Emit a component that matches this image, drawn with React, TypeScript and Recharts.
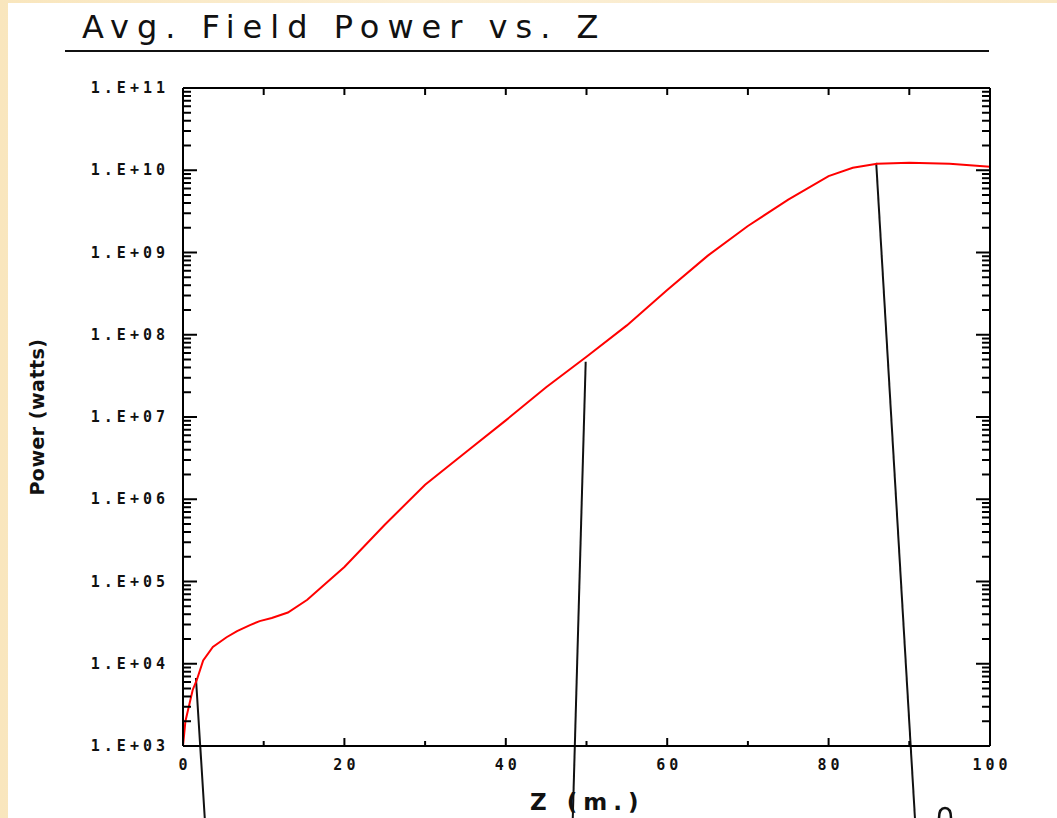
import { LineChart, Line, XAxis, YAxis, ReferenceLine } from "recharts";

// distance along the undulator (m) and average field power (W)
const zValues = [0, 0.3, 1.2, 1.7, 2.5, 3.7, 5.4, 6.7, 8.3, 9.5, 11, 13, 15.4, 17.5, 20, 25, 30, 35, 40, 45, 50, 55, 60, 65, 70, 75, 80, 83, 86, 90, 95, 100];
const powerValues = [1e3, 2.0e3, 4.8e3, 6.3e3, 1.1e4, 1.6e4, 2.1e4, 2.5e4, 2.95e4, 3.3e4, 3.6e4, 4.2e4, 6.0e4, 9.1e4, 1.5e5, 4.9e5, 1.5e6, 3.7e6, 9.1e6, 2.3e7, 5.4e7, 1.3e8, 3.5e8, 9.1e8, 2.1e9, 4.4e9, 8.5e9, 1.07e10, 1.2e10, 1.23e10, 1.2e10, 1.1e10];

// hand-drawn pointer lines on the slide: [zTop, pTop, zBottom, pBottom]
const pointerLines = [
  [1.6, 6.7e3, 2.7, 133],
  [49.9, 4.7e7, 48.3, 133],
  [85.9, 1.23e10, 90.7, 133],
];

const xTicks = [0, 10, 20, 30, 40, 50, 60, 70, 80, 90, 100];
const xTickLabels = ["0", "", "20", "", "40", "", "60", "", "80", "", "100"];
const decades = [3, 4, 5, 6, 7, 8, 9, 10, 11];
const yTickLabels = ["1.E+03", "1.E+04", "1.E+05", "1.E+06", "1.E+07", "1.E+08", "1.E+09", "1.E+10", "1.E+11"];

const yTicks: number[] = [];
decades.forEach((d, i) => {
  if (i === decades.length - 1) {
    yTicks.push(Math.pow(10, d));
    return;
  }
  for (let k = 1; k <= 9; k++) yTicks.push(k * Math.pow(10, d));
});

const data = zValues.map((z, i) => ({ z, p: powerValues[i] }));

const tickFont = "'DejaVu Sans Mono', monospace";

function decadeIndex(v: number) {
  const e = Math.log10(v);
  if (Math.abs(e - Math.round(e)) > 1e-6) return -1;
  return decades.indexOf(Math.round(e));
}

function LeftTick(props: any) {
  const { x, y, payload } = props;
  const idx = decadeIndex(payload.value);
  const major = idx >= 0;
  return (
    <g>
      <line x1={x} x2={x + (major ? 14 : 8)} y1={y} y2={y} stroke="#000" strokeWidth={2} />
      {major && (
        <text x={x - 14} y={y + 5} textAnchor="end" fontFamily={tickFont} fontSize={15} fontWeight="bold" letterSpacing={4} fill="#111">
          {yTickLabels[idx]}
        </text>
      )}
    </g>
  );
}

function RightTick(props: any) {
  const { x, y, payload } = props;
  const major = decadeIndex(payload.value) >= 0;
  return <line x1={x} x2={x - (major ? 14 : 8)} y1={y} y2={y} stroke="#000" strokeWidth={2} />;
}

function BottomTick(props: any) {
  const { x, y, index } = props;
  const label = xTickLabels[index] ?? "";
  const major = label !== "";
  return (
    <g>
      <line x1={x} x2={x} y1={y} y2={y - (major ? 8 : 5)} stroke="#000" strokeWidth={2} />
      {major && (
        <text x={x + 2} y={y + 24} textAnchor="middle" fontFamily={tickFont} fontSize={15} fontWeight="bold" letterSpacing={4} fill="#111">
          {label}
        </text>
      )}
    </g>
  );
}

function TopTick(props: any) {
  const { x, y } = props;
  return <line x1={x} x2={x} y1={y} y2={y + 7} stroke="#000" strokeWidth={2} />;
}

export default function App() {
  return (
    <div
      style={{
        position: "absolute",
        left: 0,
        top: 0,
        width: 1057,
        height: 818,
        overflow: "hidden",
        background: "linear-gradient(90deg, #f9e6bd 0%, #fbefd6 40%, #f9e8c4 100%)",
      }}
    >
      <div style={{ position: "absolute", left: 8, top: 3, width: 1049, height: 815, background: "#fff" }} />
      <div
        style={{
          position: "absolute",
          left: 82,
          top: 8,
          fontFamily: "'DejaVu Sans', sans-serif",
          fontSize: 32,
          letterSpacing: 8,
          color: "#111",
          whiteSpace: "nowrap",
        }}
      >
        Avg. Field Power vs. Z
      </div>
      <div style={{ position: "absolute", left: 65, top: 50, width: 924, height: 2, background: "#111" }} />
      <div
        style={{
          position: "absolute",
          left: 37,
          top: 417,
          transform: "translate(-50%, -50%) rotate(-90deg)",
          fontFamily: "'DejaVu Sans', sans-serif",
          fontSize: 19,
          fontWeight: "bold",
          letterSpacing: 0.5,
          color: "#111",
          whiteSpace: "nowrap",
        }}
      >
        Power (watts)
      </div>
      <div
        style={{
          position: "absolute",
          left: 530,
          top: 789,
          fontFamily: "'DejaVu Sans', sans-serif",
          fontSize: 23,
          fontWeight: "bold",
          letterSpacing: 6,
          color: "#111",
          whiteSpace: "nowrap",
        }}
      >
        Z (m.)
      </div>
      <div style={{ position: "absolute", left: 0, top: 0 }}>
        <LineChart width={1057} height={818} data={data} margin={{ top: 78, right: 57, bottom: 42, left: 73 }} style={{ overflow: "visible" }}>
          <XAxis
            dataKey="z"
            type="number"
            domain={[0, 100]}
            ticks={xTicks}
            height={30}
            tickSize={0}
            tickMargin={0}
            tick={<BottomTick />}
            axisLine={{ stroke: "#000", strokeWidth: 2 }}
            tickLine={false}
            interval={0}
          />
          <XAxis
            xAxisId="t"
            orientation="top"
            dataKey="z"
            type="number"
            domain={[0, 100]}
            ticks={xTicks}
            height={10}
            tickSize={0}
            tickMargin={0}
            tick={<TopTick />}
            axisLine={{ stroke: "#000", strokeWidth: 2 }}
            tickLine={false}
            interval={0}
          />
          <YAxis
            type="number"
            scale="log"
            domain={[1e3, 1e11]}
            allowDataOverflow
            ticks={yTicks}
            width={110}
            tickSize={0}
            tickMargin={0}
            tick={<LeftTick />}
            axisLine={{ stroke: "#000", strokeWidth: 2 }}
            tickLine={false}
            interval={0}
          />
          <YAxis
            yAxisId="r"
            orientation="right"
            type="number"
            scale="log"
            domain={[1e3, 1e11]}
            allowDataOverflow
            ticks={yTicks}
            width={10}
            tickSize={0}
            tickMargin={0}
            tick={<RightTick />}
            axisLine={{ stroke: "#000", strokeWidth: 2 }}
            tickLine={false}
            interval={0}
          />
          {pointerLines.map((l, i) => (
            <ReferenceLine
              key={i}
              segment={[
                { x: l[0], y: l[1] },
                { x: l[2], y: l[3] },
              ]}
              stroke="#111"
              strokeWidth={2}
              ifOverflow="visible"
            />
          ))}
          <Line xAxisId="t" yAxisId="r" dataKey="p" type="linear" stroke="none" strokeWidth={0} dot={false} activeDot={false} isAnimationActive={false} />
          <Line dataKey="p" type="linear" stroke="#ff0000" strokeWidth={2} dot={false} isAnimationActive={false} />
        </LineChart>
      </div>
      <svg style={{ position: "absolute", left: 935, top: 803 }} width={24} height={15}>
        <path d="M4 15 Q4 5 10 5 Q16 5 16 15" fill="none" stroke="#111" strokeWidth={2.5} />
      </svg>
    </div>
  );
}
